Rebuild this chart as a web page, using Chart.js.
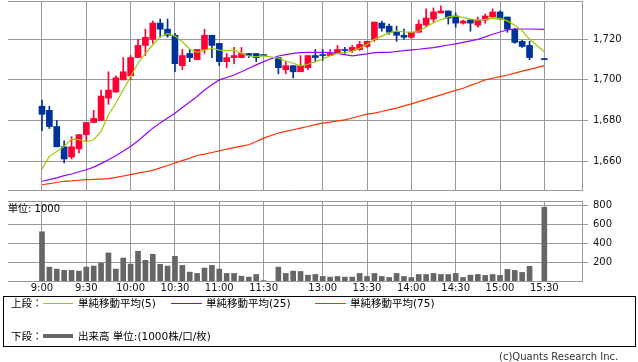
<!DOCTYPE html>
<html><head><meta charset="utf-8">
<script src="https://cdn.jsdelivr.net/npm/chart.js@4.4.1/dist/chart.umd.min.js"></script>
<style>
html,body{margin:0;padding:0;background:#fff;}
#wrap{position:relative;width:638px;height:362px;overflow:hidden;font-family:"DejaVu Sans","Noto Sans CJK JP",sans-serif;color:#000;}
canvas{position:absolute;left:0;top:0;}
.t{position:absolute;white-space:nowrap;line-height:13px;}
.ln{position:absolute;}
#legend{position:absolute;left:3px;top:296px;width:633px;height:51px;box-sizing:border-box;border:1px solid #000;}
</style></head>
<body><div id="wrap">
<canvas id="c1" width="638" height="362"></canvas>
<canvas id="c2" width="638" height="362"></canvas>
<div class="t" style="left:8px;top:203px;font-size:10px;line-height:12px;">単位: 1000</div>
<div id="legend"></div>
<div class="t" style="left:11px;top:297px;font-size:10.5px;">上段：</div>
<div class="ln" style="left:43px;top:303px;width:30px;height:1px;background:#99cc00;"></div>
<div class="t" style="left:78px;top:297px;font-size:10.5px;">単純移動平均(5)</div>
<div class="ln" style="left:171px;top:303px;width:31px;height:1px;background:#9900ff;"></div>
<div class="t" style="left:206px;top:297px;font-size:10.5px;">単純移動平均(25)</div>
<div class="ln" style="left:315px;top:303px;width:31px;height:1px;background:#ff3300;"></div>
<div class="t" style="left:350px;top:297px;font-size:10.5px;">単純移動平均(75)</div>
<div class="t" style="left:11px;top:330px;font-size:10.5px;">下段：</div>
<div class="ln" style="left:43px;top:334px;width:30px;height:4px;background:#666666;"></div>
<div class="t" style="left:78px;top:330px;font-size:10.5px;">出来高 単位:(1000株/口/枚)</div>
<div class="t" style="left:499px;top:350px;font-size:10px;color:#333;">(c)Quants Research Inc.</div>
</div>
<script>
const times = ["9:00","9:05","9:10","9:15","9:20","9:25","9:30","9:35","9:40","9:45","9:50","9:55","10:00","10:05","10:10","10:15","10:20","10:25","10:30","10:35","10:40","10:45","10:50","10:55","11:00","11:05","11:10","11:15","11:20","11:25","11:30","","12:30","12:35","12:40","12:45","12:50","12:55","13:00","13:05","13:10","13:15","13:20","13:25","13:30","13:35","13:40","13:45","13:50","13:55","14:00","14:05","14:10","14:15","14:20","14:25","14:30","14:35","14:40","14:45","14:50","14:55","15:00","15:05","15:10","15:15","15:20","15:25","15:30"];
const xTickLabels = ["9:00","9:30","10:00","10:30","11:00","11:30","13:00","13:30","14:00","14:30","15:00","15:30"];
const priceTicks = [1660,1680,1700,1720];
const volumeTicks = [200,400,600,800];

const open = [1687,1685,1677,1667,1662,1666,1673,1679,1680,1691, 1694,1700,1702,1711,1717,1720,1728,1725,1722,1707, 1713,1710,1715,1722,1718,1709,1711,1711,1713,1713, 1712,null,1711,1705,1707,1704,1706,1712,1712.5,1712, 1713,1715,1714.5,1715,1716.5,1720,1728,1726.5,1723.5,1722, 1721,1723.5,1727,1730,1733,1734,1731.5,1728,1729.5,1727, 1729.5,1731,1733.5,1731,1725,1719,1717,null,1710];
const high = [1690,1687,1680,1670,1672,1673,1679,1685,1695,1704, 1702,1711,1712,1720,1725,1729,1730,1730,1723,1715, 1715,1715,1725,1722,1718,1713,1716,1716,1713,1713, 1712,null,1711,1709,1707,1712,1712,1715,1715,1715, 1717,1716,1717,1719,1719,1728.5,1729,1727.5,1726.5,1725, 1723.5,1729.5,1735,1735.5,1736.5,1734,1733,1729.5,1730,1731, 1732.5,1735,1734,1731,1725.5,1719.5,1719,null,1710];
const low = [1675,1676,1667,1659,1661,1664,1670,1679,1680,1688, 1694,1700,1700,1711,1712,1718,1721,1721,1704,1705, 1709,1710,1713,1711,1707,1706,1708,1711,1711,1709, 1712,null,1703,1703,1701,1704,1705,1709,1709.5,1712, 1713,1713,1713.5,1714.5,1716,1719,1724,1722.5,1719,1720, 1720.5,1723.5,1726,1728.5,1733,1727.5,1726,1727.5,1724,1726, 1728,1731,1730,1723.5,1718,1716,1710,null,1710];
const close = [1683,1677,1667,1661,1667,1673,1679,1681,1692,1695, 1701,1704,1711,1717,1721,1728,1725,1722,1708,1712, 1711,1715,1722,1717,1709,1711,1712,1713,1712,1711, 1712,null,1706,1707,1704,1707,1712,1711,1712,1713, 1715,1714.5,1716,1717.5,1719,1728.5,1725.5,1723.5,1722,1721, 1723.5,1727.5,1730.5,1733.5,1734,1730.5,1728,1729,1728,1729.5, 1731.5,1733.5,1730,1725,1718.5,1716.5,1711,null,1710];
const volume = [521,147,126,112,112,105,147,158,190,297, 126,243,179,315,219,283,176,158,261,165, 94,80,137,165,126,80,80,51,41,69, 4,null,147,80,105,101,62,69,48,41, 48,41,41,80,48,80,48,37,80,48, 37,69,69,80,69,69,80,37,62,69, 59,69,59,123,112,91,155,null,781];
const ma5 = [1656.0,1662.3,1664.7,1667.2,1670.8,1670.5,1669.5,1670.5,1674.6,1682.8, 1688.5,1695.1,1701.6,1708.2,1713.1,1717.2,1721.3,1722.9,1721.6,1718.8, 1715.1,1713.6,1714.7,1715.6,1714.7,1714.4,1714.7,1713.1,1711.8,1711.4, 1711.8,null,1710.7,1709.3,1708.2,1706.9,1707.7,1709.0,1710.2,1711.9, 1713.1,1713.4,1714.2,1715.6,1717.5,1720.0,1721.6,1723.2,1724.2,1723.7, 1723.4,1724.1,1726.2,1728.2,1729.8,1731.1,1731.5,1730.8,1730.0,1729.5, 1729.8,1730.3,1730.3,1729.1,1727.0,1724.2,1720.0,null,1713.9];
const ma25 = [1650.0,1650.8,1651.7,1652.8,1653.6,1654.7,1655.7,1657.0,1658.7,1660.6, 1662.6,1664.9,1667.2,1670.0,1673.1,1676.2,1678.8,1681.2,1683.6,1686.4, 1689.1,1691.8,1695.0,1697.6,1700.0,1701.2,1702.4,1704.0,1705.7,1707.4, 1709.0,null,1711.8,1712.5,1713.1,1713.4,1713.6,1713.6,1713.6,1713.4, 1713.1,1712.5,1711.8,1712.3,1712.8,1713.4,1713.6,1713.6,1714.0,1714.4, 1714.8,1715.1,1715.5,1715.9,1716.5,1717.2,1717.8,1718.5,1719.2,1720.0, 1721.2,1722.5,1723.6,1724.6,1725.1,1725.1,1725.1,null,1724.9];
const ma75 = [1648.3,1648.8,1649.4,1650.0,1650.2,1650.5,1650.8,1650.9,1651.1,1651.3, 1651.9,1652.6,1653.3,1654.0,1654.7,1655.4,1656.6,1657.8,1659.0,1660.2, 1661.4,1662.7,1663.4,1664.2,1665.0,1665.9,1666.6,1667.3,1668.0,1669.6, 1671.3,null,1673.8,1674.6,1675.4,1676.2,1677.0,1677.9,1678.7,1679.2, 1679.8,1680.3,1681.2,1682.2,1683.1,1683.6,1684.4,1685.3,1686.1,1687.2, 1688.2,1689.3,1690.4,1691.5,1692.6,1693.7,1694.8,1695.9,1697.3,1698.6, 1700.0,1700.8,1701.6,1702.4,1703.3,1704.3,1705.2,null,1707.0];

const RED = '#ff0033', BLUE = '#003399', GRID = '#999999', VOL = '#666666';
const X_MIN = -4.6, X_MAX = 73.1;
const xTickIdx = xTickLabels.map(l => times.indexOf(l));

const bodyData = [], wickData = [], candleColors = [], volData = [];
times.forEach((t, i) => {
  if (open[i] != null) {
    bodyData.push({x: i, y: [open[i], close[i]]});
    wickData.push({x: i, y: [low[i], high[i]]});
    candleColors.push(close[i] > open[i] ? RED : BLUE);
  }
  if (volume[i] != null) volData.push({x: i, y: volume[i]});
});
const lineData = arr => arr.map((v, i) => ({x: i, y: v}));
const fmt = v => v.toLocaleString('en-US');
const tickFont = {family: 'DejaVu Sans', size: 10};

function xScales(height, showLabels) {
  return {
    x: {
      type: 'linear', position: 'bottom', min: X_MIN, max: X_MAX, offset: false,
      afterBuildTicks: s => { s.ticks = xTickIdx.map(v => ({value: v})); },
      afterFit: s => { s.height = height; s.paddingLeft = 0; s.paddingRight = 0; },
      grid: {color: GRID, lineWidth: 1, drawTicks: false, offset: false},
      border: {display: true, color: GRID},
      ticks: {display: showLabels, autoSkip: false, maxRotation: 0, padding: 1, font: tickFont, color: '#111',
              callback: v => times[v]}
    },
    xTop: {
      type: 'linear', axis: 'x', position: 'top', min: X_MIN, max: X_MAX, offset: false,
      afterFit: s => { s.height = 0; },
      grid: {display: false, drawTicks: false},
      border: {display: true, color: GRID},
      ticks: {display: false}
    }
  };
}

function yScale(min, max, ticks, formatter) {
  return {
    type: 'linear', position: 'right', min: min, max: max,
    afterBuildTicks: s => { s.ticks = ticks.map(v => ({value: v})); },
    afterFit: s => { s.width = 56; s.paddingTop = 0; s.paddingBottom = 0; },
    grid: {color: GRID, lineWidth: 1, tickLength: 6},
    border: {display: true, color: GRID},
    ticks: {padding: 5, font: tickFont, color: '#111', callback: formatter}
  };
}

const common = {
  responsive: false, animation: false, devicePixelRatio: 1, events: [],
  plugins: {legend: {display: false}, tooltip: {enabled: false}}
};

new Chart(document.getElementById('c1'), {
  type: 'bar',
  data: {
    datasets: [
      {type: 'line', data: lineData(ma5), borderColor: '#99cc00', borderWidth: 1.2, pointRadius: 0, spanGaps: true, order: 0},
      {type: 'line', data: lineData(ma25), borderColor: '#9900ff', borderWidth: 1.2, pointRadius: 0, spanGaps: true, order: 0},
      {type: 'line', data: lineData(ma75), borderColor: '#ff3300', borderWidth: 1.2, pointRadius: 0, spanGaps: true, order: 0},
      {type: 'bar', data: bodyData, backgroundColor: candleColors, barThickness: 6, grouped: false, minBarLength: 1, order: 1},
      {type: 'bar', data: wickData, backgroundColor: candleColors, barThickness: 1, grouped: false, minBarLength: 1, order: 2}
    ]
  },
  options: Object.assign({}, common, {
    layout: {padding: {left: 8, top: 1, right: 0, bottom: 0}},
    scales: Object.assign(xScales(172, false), {y: yScale(1645.7, 1738.9, priceTicks, fmt)})
  })
});

new Chart(document.getElementById('c2'), {
  type: 'bar',
  data: {
    datasets: [
      {type: 'bar', data: volData, backgroundColor: VOL, barThickness: 5, grouped: false}
    ]
  },
  options: Object.assign({}, common, {
    layout: {padding: {left: 8, top: 201, right: 0, bottom: 0}},
    scales: Object.assign(xScales(81, true), {y: yScale(0, 847, volumeTicks, v => String(v))})
  })
});
</script>
</body></html>
